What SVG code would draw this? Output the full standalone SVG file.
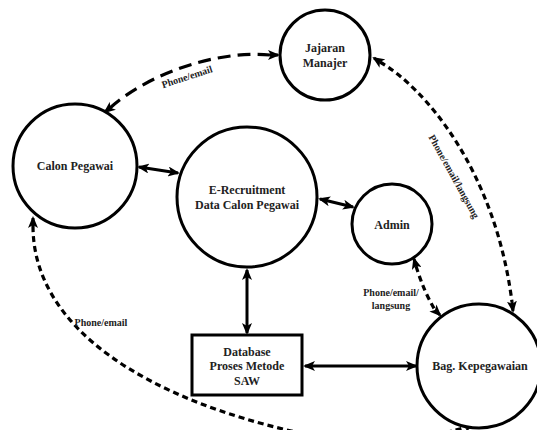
<svg xmlns="http://www.w3.org/2000/svg" width="537" height="430" viewBox="0 0 537 430">
<style>
.node{fill:#fff;stroke:#000;stroke-width:3}
.lbl{font-family:'Liberation Serif','DejaVu Serif',serif;font-weight:bold;font-size:12px;fill:#222;text-anchor:middle}
.sm{font-family:'Liberation Serif','DejaVu Serif',serif;font-weight:bold;font-size:10px;fill:#222;text-anchor:middle}
.solid{fill:none;stroke:#000;stroke-width:3;marker-start:url(#ah);marker-end:url(#ah)}
.dash{fill:none;stroke:#000;stroke-width:3.2;stroke-dasharray:13 7}
.dot{fill:none;stroke:#000;stroke-width:3.2;stroke-dasharray:6 4}
</style>
<defs>
<marker id="ah" viewBox="0 0 12 10" refX="10" refY="5" markerWidth="12" markerHeight="10" markerUnits="userSpaceOnUse" orient="auto-start-reverse">
<path d="M0,0 L12,5 L0,10 L3,5 z" fill="#000"/>
</marker>
</defs>
<rect width="537" height="430" fill="#fff"/>
<g id="connectors">
<path class="solid" d="M139,167 L178,173"/>
<path class="solid" d="M320,199 L353,207"/>
<path class="solid" d="M247,270 L247,333"/>
<path class="solid" d="M305,366 L416,366"/>
<path class="dash" d="M110,108 C150,72 220,50 270,55"/>
<path d="M110,108 L105,112" stroke="#000" stroke-width="3" marker-end="url(#ah)"/>
<path d="M270,55 L278,55" stroke="#000" stroke-width="3" marker-end="url(#ah)"/>
<path class="dot" d="M380,62 C425,88 495,170 512,302"/>
<path d="M380,62 L374,58" stroke="#000" stroke-width="3" marker-end="url(#ah)"/>
<path d="M512,302 L513,311" stroke="#000" stroke-width="3" marker-end="url(#ah)"/>
<path class="dot" d="M416,266 Q424,292 435,310"/>
<path d="M416,266 L414,259" stroke="#000" stroke-width="3" marker-end="url(#ah)"/>
<path d="M435,310 L440,315" stroke="#000" stroke-width="3" marker-end="url(#ah)"/>
<path class="dot" d="M33,226 C33,330 150,400 300,433 C380,446 440,436 466,427"/>
<path d="M33,226 L33,218" stroke="#000" stroke-width="3" marker-end="url(#ah)"/>
<path d="M466,427 L473,424" stroke="#000" stroke-width="3" marker-end="url(#ah)"/>
<text class="sm" transform="translate(188,80) rotate(-18)">Phone/email</text>
<text class="sm" transform="translate(451,178) rotate(61)">Phone/email/langsung</text>
<text class="sm" x="391" y="296">Phone/email/</text>
<text class="sm" x="391" y="309">langsung</text>
<text class="sm" x="101" y="326">Phone/email</text>
</g>
<g id="calon">
<circle class="node" cx="75" cy="166" r="62"/>
<text class="lbl" x="75" y="170">Calon Pegawai</text>
</g>
<g id="jajaran">
<circle class="node" cx="325" cy="55" r="45"/>
<text class="lbl" x="325" y="52">Jajaran</text>
<text class="lbl" x="325" y="67">Manajer</text>
</g>
<g id="erecruitment">
<circle class="node" cx="247" cy="197" r="70"/>
<text class="lbl" x="247" y="194">E-Recruitment</text>
<text class="lbl" x="247" y="209">Data Calon Pegawai</text>
</g>
<g id="admin">
<circle class="node" cx="392" cy="224" r="40"/>
<text class="lbl" x="392" y="229">Admin</text>
</g>
<g id="bag">
<circle class="node" cx="479" cy="366" r="62"/>
<text class="lbl" x="480" y="370">Bag. Kepegawaian</text>
</g>
<g id="database">
<rect class="node" x="192" y="335" width="110" height="60"/>
<text class="lbl" x="247" y="356">Database</text>
<text class="lbl" x="247" y="370">Proses Metode</text>
<text class="lbl" x="247" y="385">SAW</text>
</g>
</svg>
